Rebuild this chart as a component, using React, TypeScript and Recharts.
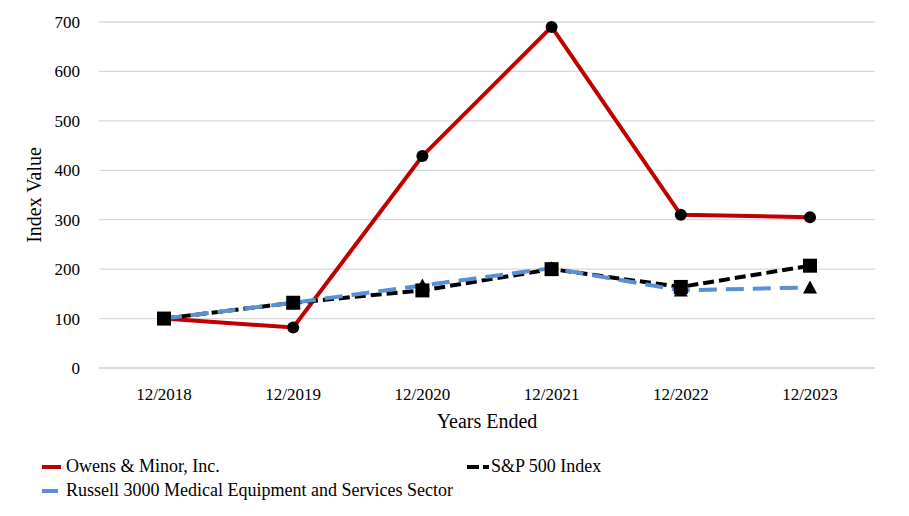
import { LineChart, Line, XAxis, YAxis, CartesianGrid } from "recharts";

const years = ["12/2018", "12/2019", "12/2020", "12/2021", "12/2022", "12/2023"];
const owensMinor = [100, 82, 429, 690, 310, 305];
const sp500 = [100, 132, 157, 200, 164, 207];
const russell3000 = [100, 132, 167, 202, 157, 163];
const yTicks = [0, 100, 200, 300, 400, 500, 600, 700];

const data = years.map((year, i) => ({
  year,
  owens: owensMinor[i],
  sp: sp500[i],
  russell: russell3000[i],
}));

const FONT = "Liberation Serif";
const RED = "#c00000";
const BLUE = "#5b8fd4";

const SquareDot = (props: any) => {
  const { cx, cy } = props;
  if (cx == null || cy == null) return null;
  return <rect x={cx - 7} y={cy - 7} width={14} height={14} fill="#000" />;
};

const TriangleDot = (props: any) => {
  const { cx, cy } = props;
  if (cx == null || cy == null) return null;
  return <polygon points={`${cx},${cy - 7} ${cx - 7},${cy + 6} ${cx + 7},${cy + 6}`} fill="#000" />;
};

const XTick = (props: any) => {
  const { x, y, payload } = props;
  return (
    <text x={x} y={y} dy={13} textAnchor="middle" fill="#000" fontSize={17} fontFamily={FONT}>
      {payload.value}
    </text>
  );
};

const YTick = (props: any) => {
  const { x, y, payload } = props;
  return (
    <text x={x} y={y} dy={6} textAnchor="end" fill="#000" fontSize={17} fontFamily={FONT}>
      {payload.value}
    </text>
  );
};

const legendItems = [
  { label: "Owens & Minor, Inc.", color: RED, dash: undefined, left: 42, top: 456, w: 19, gap: 5 },
  { label: "S&P 500 Index", color: "#000", dash: "12 4 6 20", left: 467, top: 456, w: 22, gap: 2 },
  { label: "Russell 3000 Medical Equipment and Services Sector", color: BLUE, dash: undefined, left: 42, top: 480, w: 16, gap: 8 },
];

export default function App() {
  return (
    <div style={{ position: "absolute", left: 0, top: 0, width: 909, height: 516, background: "#fff", fontFamily: FONT }}>
      <LineChart width={909} height={516} data={data} margin={{ top: 22, right: 34, left: 0, bottom: 78 }}>
        <CartesianGrid vertical={false} stroke="#d9d9d9" strokeWidth={1.3} />
        <XAxis
          dataKey="year"
          height={70}
          padding={{ left: 65, right: 65 }}
          axisLine={{ stroke: "#d9d9d9", strokeWidth: 1.3 }}
          tickLine={false}
          tickSize={0}
          tickMargin={19}
          tick={<XTick />}
          label={{ value: "Years Ended", position: "insideBottom", offset: 10, fill: "#000", fontSize: 20, fontFamily: FONT }}
        />
        <YAxis
          width={99}
          domain={[0, 700]}
          ticks={yTicks}
          axisLine={false}
          tickLine={false}
          tickSize={0}
          tickMargin={19}
          tick={<YTick />}
          label={{ value: "Index Value", angle: -90, position: "insideLeft", offset: 34, style: { textAnchor: "middle" }, fill: "#000", fontSize: 20, fontFamily: FONT }}
        />
        <Line
          dataKey="owens"
          stroke={RED}
          strokeWidth={4}
          dot={{ r: 6, fill: "#000", stroke: "none" }}
          isAnimationActive={false}
        />
        <Line
          dataKey="sp"
          stroke="#000"
          strokeWidth={4}
          strokeDasharray="11 5"
          dot={<SquareDot />}
          isAnimationActive={false}
        />
        <Line
          dataKey="russell"
          stroke={BLUE}
          strokeWidth={4}
          strokeDasharray="18 9"
          dot={<TriangleDot />}
          isAnimationActive={false}
        />
      </LineChart>
      {legendItems.map((item) => (
        <div key={item.label} style={{ position: "absolute", left: item.left, top: item.top, display: "flex", alignItems: "center", fontSize: 18, color: "#000", whiteSpace: "nowrap" }}>
          <svg width={item.w} height={18} style={{ marginRight: item.gap }}>
            <line x1={0} y1={9} x2={item.w} y2={9} stroke={item.color} strokeWidth={4} strokeDasharray={item.dash} />
          </svg>
          {item.label}
        </div>
      ))}
    </div>
  );
}
